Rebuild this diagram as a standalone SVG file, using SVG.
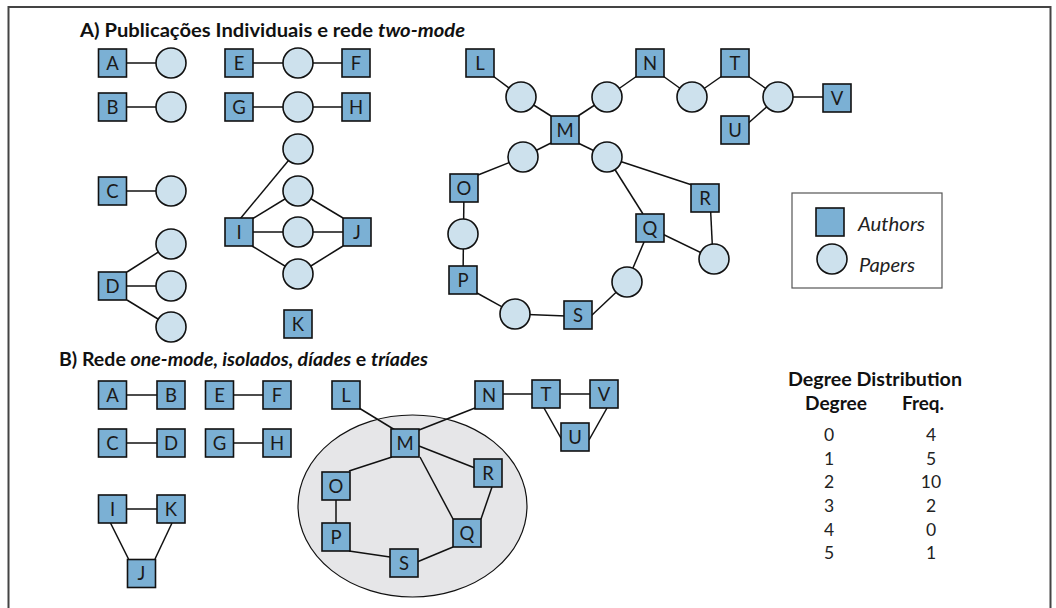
<svg xmlns="http://www.w3.org/2000/svg" width="1056" height="608" viewBox="0 0 1056 608">
<style>
.au{fill:#7bb0d4;stroke:#111;stroke-width:1.6}
.pa{fill:#cde1ed;stroke:#111;stroke-width:1.6}
.e{stroke:#111;stroke-width:1.5;fill:none}
.l{font-family:Lato,"Open Sans","Liberation Sans",sans-serif;font-size:18.5px;fill:#1a1a1a;text-anchor:middle}
.t{font-family:Lato,"Open Sans","Liberation Sans",sans-serif;font-size:18px;font-weight:bold;fill:#111}
.n{font-family:Lato,"Open Sans","Liberation Sans",sans-serif;font-size:17.5px;fill:#222;text-anchor:middle}
.lg{font-family:Lato,"Open Sans","Liberation Sans",sans-serif;font-size:19px;font-style:italic;fill:#222}
</style>
<defs>
<rect id="sq" x="-14" y="-14" width="28" height="28" class="au"/>
<circle id="ci" r="15" class="pa"/>
</defs>
<rect width="1056" height="608" fill="#fff"/>
<path d="M8.5,608 V7 H1050.5 V608" fill="none" stroke="#444" stroke-width="2"/>

<text class="t" x="80" y="37" textLength="385" lengthAdjust="spacingAndGlyphs">A) Publicações Individuais e rede <tspan font-style="italic">two-mode</tspan></text>
<text class="t" x="59" y="366" textLength="369" lengthAdjust="spacingAndGlyphs">B) Rede <tspan font-style="italic">one-mode, isolados, díades</tspan> e <tspan font-style="italic">tríades</tspan></text>

<ellipse id="cluster" cx="412.5" cy="506" rx="114.5" ry="91" fill="#e6e6e8" stroke="#111" stroke-width="1.2"/>

<g id="connectors" class="e">
<!-- Section A -->
<line x1="112.5" y1="63" x2="171" y2="63"/>
<line x1="112.5" y1="107" x2="171" y2="107"/>
<line x1="112.5" y1="191" x2="171" y2="191"/>
<line x1="112.5" y1="286" x2="171" y2="286"/>
<line x1="127" y1="272" x2="171" y2="244"/>
<line x1="127" y1="300" x2="171" y2="327"/>
<line x1="239" y1="63" x2="356" y2="63"/>
<line x1="239" y1="107" x2="356" y2="107"/>
<line x1="240" y1="219" x2="298" y2="149"/>
<line x1="252" y1="219" x2="298" y2="191"/>
<line x1="239" y1="232" x2="357" y2="232"/>
<line x1="252" y1="246" x2="298" y2="274"/>
<line x1="343" y1="218" x2="298" y2="191"/>
<line x1="343" y1="246" x2="298" y2="274"/>
<line x1="493" y1="76" x2="521" y2="97"/>
<line x1="521" y1="97" x2="551" y2="116"/>
<line x1="578" y1="116" x2="607" y2="97"/>
<line x1="607" y1="97" x2="637" y2="76"/>
<line x1="663" y1="76" x2="692" y2="97"/>
<line x1="692" y1="97" x2="722" y2="76"/>
<line x1="748" y1="76" x2="778" y2="97"/>
<line x1="778" y1="97" x2="837" y2="97"/>
<line x1="778" y1="97" x2="745" y2="126"/>
<line x1="551" y1="143" x2="523" y2="157"/>
<line x1="523" y1="157" x2="478" y2="175"/>
<line x1="578" y1="143" x2="607" y2="157"/>
<line x1="607" y1="157" x2="692" y2="185"/>
<line x1="607" y1="157" x2="643" y2="214"/>
<line x1="464" y1="188" x2="463" y2="280"/>
<line x1="477" y1="293" x2="515" y2="314"/>
<line x1="515" y1="314" x2="566" y2="316"/>
<line x1="591" y1="316" x2="627" y2="282"/>
<line x1="627" y1="282" x2="650" y2="228"/>
<line x1="650" y1="228" x2="714" y2="259"/>
<line x1="710" y1="198" x2="713" y2="259"/>
<!-- Section B -->
<line x1="112.5" y1="395" x2="171" y2="395"/>
<line x1="112.5" y1="443" x2="171" y2="443"/>
<line x1="219.5" y1="395" x2="277" y2="395"/>
<line x1="219.5" y1="443" x2="277" y2="443"/>
<line x1="112.5" y1="509" x2="171" y2="509"/>
<line x1="110.5" y1="523" x2="128.5" y2="559"/>
<line x1="172" y1="523" x2="155" y2="559"/>
<line x1="359" y1="408" x2="395" y2="430"/>
<line x1="475" y1="408" x2="419" y2="430"/>
<line x1="503" y1="394" x2="532" y2="394"/>
<line x1="560" y1="394" x2="591" y2="394"/>
<line x1="544" y1="408" x2="562" y2="440"/>
<line x1="607" y1="408" x2="589" y2="440"/>
<line x1="419" y1="446" x2="475" y2="468"/>
<line x1="420" y1="457" x2="453" y2="519"/>
<line x1="492" y1="487" x2="481" y2="519"/>
<line x1="392" y1="457" x2="349" y2="471"/>
<line x1="336" y1="486" x2="336" y2="537"/>
<line x1="349" y1="551" x2="390" y2="557"/>
<line x1="417" y1="562" x2="453" y2="547"/>
</g>

<!-- Section A papers -->
<g id="a-papers">
<use id="pA" href="#ci" x="171" y="63"/>
<use id="pB" href="#ci" x="171" y="107"/>
<use id="pC" href="#ci" x="171" y="191"/>
<use id="pD1" href="#ci" x="171" y="244"/>
<use id="pD2" href="#ci" x="171" y="286"/>
<use id="pD3" href="#ci" x="171" y="327"/>
<use id="pEF" href="#ci" x="298" y="63"/>
<use id="pGH" href="#ci" x="298" y="107"/>
<use id="pI1" href="#ci" x="298" y="149"/>
<use id="pIJ1" href="#ci" x="298" y="191"/>
<use id="pIJ2" href="#ci" x="298" y="232"/>
<use id="pIJ3" href="#ci" x="298" y="274"/>
<use id="pLM" href="#ci" x="521" y="97"/>
<use id="pMN" href="#ci" x="607" y="97"/>
<use id="pNT" href="#ci" x="692" y="97"/>
<use id="pTUV" href="#ci" x="778" y="97"/>
<use id="pMO" href="#ci" x="523" y="157"/>
<use id="pMQR" href="#ci" x="607" y="157"/>
<use id="pOP" href="#ci" x="463" y="234"/>
<use id="pPS" href="#ci" x="515" y="314"/>
<use id="pSQ" href="#ci" x="627" y="282"/>
<use id="pQR" href="#ci" x="714" y="259"/>
</g>

<!-- Section A authors -->
<g id="aA"><use href="#sq" x="112.5" y="63"/><text class="l" x="112.5" y="69.5">A</text></g>
<g id="aB"><use href="#sq" x="112.5" y="107"/><text class="l" x="112.5" y="113.5">B</text></g>
<g id="aC"><use href="#sq" x="112.5" y="191"/><text class="l" x="112.5" y="197.5">C</text></g>
<g id="aD"><use href="#sq" x="112.5" y="286"/><text class="l" x="112.5" y="292.5">D</text></g>
<g id="aE"><use href="#sq" x="239" y="63"/><text class="l" x="239" y="69.5">E</text></g>
<g id="aF"><use href="#sq" x="356" y="63"/><text class="l" x="356" y="69.5">F</text></g>
<g id="aG"><use href="#sq" x="239" y="107"/><text class="l" x="239" y="113.5">G</text></g>
<g id="aH"><use href="#sq" x="356" y="107"/><text class="l" x="356" y="113.5">H</text></g>
<g id="aI"><use href="#sq" x="239" y="232"/><text class="l" x="239" y="238.5">I</text></g>
<g id="aJ"><use href="#sq" x="357" y="232"/><text class="l" x="357" y="238.5">J</text></g>
<g id="aK"><use href="#sq" x="298" y="324"/><text class="l" x="298" y="330.5">K</text></g>
<g id="aL"><use href="#sq" x="480" y="63"/><text class="l" x="480" y="69.5">L</text></g>
<g id="aM"><use href="#sq" x="565" y="130"/><text class="l" x="565" y="136.5">M</text></g>
<g id="aN"><use href="#sq" x="650" y="63"/><text class="l" x="650" y="69.5">N</text></g>
<g id="aT"><use href="#sq" x="735" y="63"/><text class="l" x="735" y="69.5">T</text></g>
<g id="aV"><use href="#sq" x="837" y="98"/><text class="l" x="837" y="104.5">V</text></g>
<g id="aU"><use href="#sq" x="735" y="130"/><text class="l" x="735" y="136.5">U</text></g>
<g id="aO"><use href="#sq" x="464" y="188"/><text class="l" x="464" y="194.5">O</text></g>
<g id="aP"><use href="#sq" x="463" y="280"/><text class="l" x="463" y="286.5">P</text></g>
<g id="aS"><use href="#sq" x="578" y="315"/><text class="l" x="578" y="321.5">S</text></g>
<g id="aQ"><use href="#sq" x="650" y="228"/><text class="l" x="650" y="234.5">Q</text></g>
<g id="aR"><use href="#sq" x="705" y="198"/><text class="l" x="705" y="204.5">R</text></g>

<!-- Legend -->
<g id="legend">
<rect x="792" y="193" width="150" height="95" fill="#fff" stroke="#555" stroke-width="1.2"/>
<use href="#sq" x="830" y="222"/>
<use href="#ci" x="832" y="259"/>
<text class="lg" x="858" y="231" textLength="67" lengthAdjust="spacingAndGlyphs">Authors</text>
<text class="lg" x="859" y="272" textLength="56" lengthAdjust="spacingAndGlyphs">Papers</text>
</g>

<!-- Section B authors -->
<g id="bA"><use href="#sq" x="112.5" y="395"/><text class="l" x="112.5" y="401.5">A</text></g>
<g id="bB"><use href="#sq" x="171" y="395"/><text class="l" x="171" y="401.5">B</text></g>
<g id="bE"><use href="#sq" x="219.5" y="395"/><text class="l" x="219.5" y="401.5">E</text></g>
<g id="bF"><use href="#sq" x="277" y="395"/><text class="l" x="277" y="401.5">F</text></g>
<g id="bC"><use href="#sq" x="112.5" y="443"/><text class="l" x="112.5" y="449.5">C</text></g>
<g id="bD"><use href="#sq" x="171" y="443"/><text class="l" x="171" y="449.5">D</text></g>
<g id="bG"><use href="#sq" x="219.5" y="443"/><text class="l" x="219.5" y="449.5">G</text></g>
<g id="bH"><use href="#sq" x="277" y="443"/><text class="l" x="277" y="449.5">H</text></g>
<g id="bI"><use href="#sq" x="112.5" y="509"/><text class="l" x="112.5" y="515.5">I</text></g>
<g id="bK"><use href="#sq" x="171" y="509"/><text class="l" x="171" y="515.5">K</text></g>
<g id="bJ"><use href="#sq" x="141.5" y="573.5"/><text class="l" x="141.5" y="580">J</text></g>
<g id="bL"><use href="#sq" x="346" y="395"/><text class="l" x="346" y="401.5">L</text></g>
<g id="bM"><use href="#sq" x="405" y="443"/><text class="l" x="405" y="449.5">M</text></g>
<g id="bN"><use href="#sq" x="489" y="395"/><text class="l" x="489" y="401.5">N</text></g>
<g id="bT"><use href="#sq" x="546" y="394"/><text class="l" x="546" y="400.5">T</text></g>
<g id="bV"><use href="#sq" x="604" y="394"/><text class="l" x="604" y="400.5">V</text></g>
<g id="bU"><use href="#sq" x="575" y="437"/><text class="l" x="575" y="443.5">U</text></g>
<g id="bR"><use href="#sq" x="488" y="473"/><text class="l" x="488" y="479.5">R</text></g>
<g id="bO"><use href="#sq" x="336" y="486"/><text class="l" x="336" y="492.5">O</text></g>
<g id="bP"><use href="#sq" x="336" y="537"/><text class="l" x="336" y="543.5">P</text></g>
<g id="bQ"><use href="#sq" x="467" y="533"/><text class="l" x="467" y="539.5">Q</text></g>
<g id="bS"><use href="#sq" x="404" y="563"/><text class="l" x="404" y="569.5">S</text></g>

<!-- Degree distribution -->
<g id="degree-table">
<text class="t" x="788" y="386" textLength="174" lengthAdjust="spacingAndGlyphs">Degree Distribution</text>
<text class="t" x="805" y="410" textLength="62" lengthAdjust="spacingAndGlyphs">Degree</text>
<text class="t" x="902" y="410" textLength="42" lengthAdjust="spacingAndGlyphs">Freq.</text>
<text class="n" x="829" y="441">0</text><text class="n" x="931" y="441">4</text>
<text class="n" x="829" y="464.5">1</text><text class="n" x="931" y="464.5">5</text>
<text class="n" x="829" y="488">2</text><text class="n" x="931" y="488">10</text>
<text class="n" x="829" y="512">3</text><text class="n" x="931" y="512">2</text>
<text class="n" x="829" y="535.5">4</text><text class="n" x="931" y="535.5">0</text>
<text class="n" x="829" y="559">5</text><text class="n" x="931" y="559">1</text>
</g>
</svg>
